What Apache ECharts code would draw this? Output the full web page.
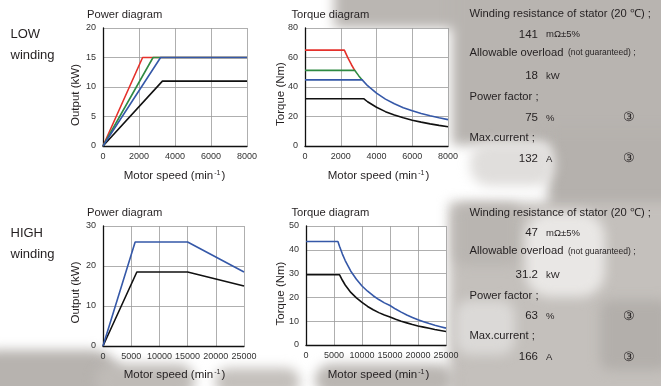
<!DOCTYPE html>
<html><head><meta charset="utf-8">
<script src="https://cdn.jsdelivr.net/npm/echarts@6/dist/echarts.min.js"></script>
<style>
html,body{margin:0;padding:0;background:#fff}
#wrap{position:relative;width:661px;height:386px;overflow:hidden;background:#fff}
#bg{position:absolute;left:0;top:0;width:661px;height:386px}
#bg div{position:absolute;filter:blur(6px)}
#c{position:absolute;left:0;top:0;width:661px;height:386px}
</style>
</head><body><div id="wrap"><div id="bg"></div><div id="c"></div></div>
<script>
// ---- data ----
const lowXTicks = [0, 2000, 4000, 6000, 8000];
const highXTicks = [0, 5000, 10000, 15000, 20000, 25000];
const lowPowerTicks = [0, 5, 10, 15, 20];
const lowTorqueTicks = [0, 20, 40, 60, 80];
const highPowerTicks = [0, 10, 20, 30];
const highTorqueTicks = [0, 10, 20, 30, 40, 50];

// LOW winding – power (kW) vs speed (min-1)
const lowPowerRed   = [[0,0],[2200,15],[8000,15]];
const lowPowerGreen = [[0,0],[2780,15],[8000,15]];
const lowPowerBlue  = [[0,0],[3200,15],[8000,15]];
const lowPowerBlack = [[0,0],[3300,11],[8000,11]];

// LOW winding – torque (Nm) vs speed
const lowTorqueRed   = [[0,65],[2200,65],[2400,59.7],[2600,55.1],[2780,51.3]];
const lowTorqueGreen = [[0,51.3],[2780,51.3],[3000,47.7],[3200,44.8]];
const lowTorqueBlue  = [[0,44.8],[3200,44.8],[3500,40.9],[4000,35.8],[4500,31.8],[5000,28.6],[5500,26.0],[6000,23.9],[6500,22.0],[7000,20.5],[7500,19.1],[8000,17.9]];
const lowTorqueBlack = [[0,32],[3300,32],[3500,30.0],[4000,26.3],[4500,23.3],[5000,21.0],[5500,19.1],[6000,17.5],[6500,16.2],[7000,15.0],[7500,14.0],[8000,13.1]];

// HIGH winding – power
const highPowerBlue  = [[0,0],[5700,26],[15000,26],[25000,18.5]];
const highPowerBlack = [[0,0],[6000,18.5],[15000,18.5],[25000,15]];

// HIGH winding – torque
const highTorqueBlue  = [[0,43.5],[5700,43.5],[6000,41.4],[6500,38.2],[7000,35.5],[8000,31.0],[9000,27.6],[10000,24.8],[11000,22.6],[12000,20.7],[13000,19.1],[14000,17.7],[15000,16.6],[16000,15.1],[17000,13.8],[18000,12.6],[19000,11.6],[20000,10.6],[21000,9.8],[22000,9.0],[23000,8.3],[24000,7.7],[25000,7.1]];
const highTorqueBlack = [[0,29.5],[6000,29.5],[6500,27.2],[7000,25.2],[8000,22.1],[9000,19.8],[10000,17.9],[11000,16.2],[12000,14.8],[13000,13.6],[14000,12.6],[15000,11.8],[16000,10.8],[17000,10.0],[18000,9.3],[19000,8.6],[20000,8.0],[21000,7.5],[22000,7.0],[23000,6.5],[24000,6.1],[25000,5.7]];

// spec texts
const lowSpecs  = {res:'141', overload:'18', pf:'75', cur:'132'};
const highSpecs = {res:'47', overload:'31.2', pf:'63', cur:'166'};

// ---- background photo approximation (decorative, CSS only) ----
const bgShapes = [
  [334,-20,360,48,'#bab6b2',0],
  [452,-20,230,165,'#b8b4b0',0],
  [548,128,130,100,'#b5b1ad',0],
  [470,142,85,44,'#e0dedc',20],
  [449,202,235,200,'#c4c0bc',0],
  [455,205,65,60,'#b9b5b1',10],
  [525,212,80,85,'#e9e7e5',25],
  [600,300,70,70,'#b3afab',10],
  [455,300,60,55,'#dbd9d7',15],
  [-30,350,150,55,'#b7b3af',30],
  [95,364,100,34,'#bfbbb7',20],
  [215,368,85,28,'#c4c0bc',20],
  [315,364,140,32,'#bab6b2',20]
];
const bgEl = document.getElementById('bg');
bgShapes.forEach(s => {
  const d = document.createElement('div');
  d.style.left = s[0]+'px'; d.style.top = s[1]+'px';
  d.style.width = s[2]+'px'; d.style.height = s[3]+'px';
  d.style.background = s[4]; d.style.borderRadius = s[5]+'px';
  bgEl.appendChild(d);
});

// ---- styles ----
const FONT = '"Liberation Sans", Arial, Helvetica, sans-serif';
const TXT = '#231f20';
const C = {red:'#e5312b', green:'#2f8a43', blue:'#3558a8', black:'#111111'};

const grids = [
  {left:103, top:28, width:144, height:118},
  {left:305, top:28, width:143, height:118},
  {left:103, top:226, width:141, height:120},
  {left:306, top:226, width:140, height:119}
].map(g => Object.assign(g, {show:true, backgroundColor:'#ffffff', borderWidth:0, containLabel:false}));

function xAx(i, ticks){
  return {type:'value', gridIndex:i, min:ticks[0], max:ticks[ticks.length-1], interval:ticks[1]-ticks[0],
    axisLine:{show:true, onZero:false, lineStyle:{color:'#111', width:1.3}},
    axisTick:{show:false},
    axisLabel:{fontSize:9, color:'#333', margin:6, fontFamily:FONT, formatter:v => String(v)},
    splitLine:{show:true, lineStyle:{color:'#9a9a9a', width:0.8}}};
}
function yAx(i, ticks){
  return {type:'value', gridIndex:i, min:ticks[0], max:ticks[ticks.length-1], interval:ticks[1]-ticks[0],
    axisLine:{show:true, onZero:false, lineStyle:{color:'#111', width:1.3}},
    axisTick:{show:false},
    axisLabel:{fontSize:9, color:'#333', margin:7, fontFamily:FONT, formatter:v => String(v)},
    splitLine:{show:true, lineStyle:{color:'#9a9a9a', width:0.8}}};
}
function ln(i, data, color, z){
  return {type:'line', xAxisIndex:i, yAxisIndex:i, data:data, showSymbol:false, symbol:'none',
    lineStyle:{color:color, width:1.6}, z:z||2, animation:false, silent:true};
}

function t(x, y, text, size, opts){
  return {type:'text', x:x, y:y, z:50, style:Object.assign({text:text, fill:TXT,
    font: size + 'px ' + FONT, textAlign:'left', textVerticalAlign:'middle'}, opts||{})};
}
function rich(x, y){
  return {type:'text', x:x, y:y, z:50, style:{
    text:'Motor speed (min{s|-1})', fill:TXT, font:'11.5px ' + FONT, textAlign:'center', textVerticalAlign:'middle',
    rich:{s:{fontSize:7, fill:TXT, fontFamily:FONT, verticalAlign:'top', padding:[0,1,6,1]}}}};
}
function vname(x, y, text){
  return {type:'text', x:x, y:y, rotation:Math.PI/2, z:50, style:{text:text, fill:TXT,
    font:'11.5px ' + FONT, textAlign:'center', textVerticalAlign:'middle'}};
}
function specs(y0, s){
  const R = 538, U = 546, CIR = 629;
  return [
    t(469.5, y0, 'Winding resistance of stator (20 \u2103) ;', 11.2),
    t(R, y0+20.5, s.res, 11.5, {textAlign:'right'}),
    t(U, y0+20.5, 'm\u03a9\u00b15%', 9.5),
    t(469.5, y0+38.5, 'Allowable overload', 11.2),
    t(568, y0+39, '(not guaranteed) ;', 8.5),
    t(R, y0+62, s.overload, 11.5, {textAlign:'right'}),
    t(U, y0+62.5, 'kW', 9.5),
    t(469.5, y0+83, 'Power factor ;', 11.2),
    t(R, y0+103.5, s.pf, 11.5, {textAlign:'right'}),
    t(U, y0+104, '%', 9.5),
    t(CIR, y0+103.5, '\u2462', 13, {textAlign:'center'}),
    t(469.5, y0+123.5, 'Max.current ;', 11.2),
    t(R, y0+144.5, s.cur, 11.5, {textAlign:'right'}),
    t(U, y0+145, 'A', 9.5),
    t(CIR, y0+144.5, '\u2462', 13, {textAlign:'center'})
  ];
}

const texts = [
  t(87, 15, 'Power diagram', 11.2),
  t(291.5, 15, 'Torque diagram', 11.2),
  t(87, 212.5, 'Power diagram', 11.2),
  t(291.5, 212.5, 'Torque diagram', 11.2),
  t(10.5, 34.5, 'LOW', 13),
  t(10.5, 55.5, 'winding', 13),
  t(10.5, 233.5, 'HIGH', 13),
  t(10.5, 254.5, 'winding', 13),
  vname(75.5, 95, 'Output (kW)'),
  vname(281, 94, 'Torque (Nm)'),
  vname(75.5, 292.5, 'Output (kW)'),
  vname(281, 293.5, 'Torque (Nm)'),
  rich(174.5, 176),
  rich(378.5, 176),
  rich(174.5, 375),
  rich(378.5, 375)
].concat(specs(14, lowSpecs), specs(212.5, highSpecs));

const option = {
  animation:false,
  backgroundColor:'transparent',
  textStyle:{fontFamily:FONT},
  grid:grids,
  xAxis:[xAx(0, lowXTicks), xAx(1, lowXTicks), xAx(2, highXTicks), xAx(3, highXTicks)],
  yAxis:[yAx(0, lowPowerTicks), yAx(1, lowTorqueTicks), yAx(2, highPowerTicks), yAx(3, highTorqueTicks)],
  series:[
    ln(0, lowPowerBlack, C.black, 2),
    ln(0, lowPowerRed, C.red, 3),
    ln(0, lowPowerGreen, C.green, 4),
    ln(0, lowPowerBlue, C.blue, 5),
    ln(1, lowTorqueBlack, C.black, 2),
    ln(1, lowTorqueRed, C.red, 3),
    ln(1, lowTorqueGreen, C.green, 4),
    ln(1, lowTorqueBlue, C.blue, 5),
    ln(2, highPowerBlack, C.black, 2),
    ln(2, highPowerBlue, C.blue, 3),
    ln(3, highTorqueBlack, C.black, 2),
    ln(3, highTorqueBlue, C.blue, 3)
  ],
  graphic:{elements: texts}
};
const chart = echarts.init(document.getElementById('c'), null, {renderer:'canvas'});
chart.setOption(option);
</script></body></html>
